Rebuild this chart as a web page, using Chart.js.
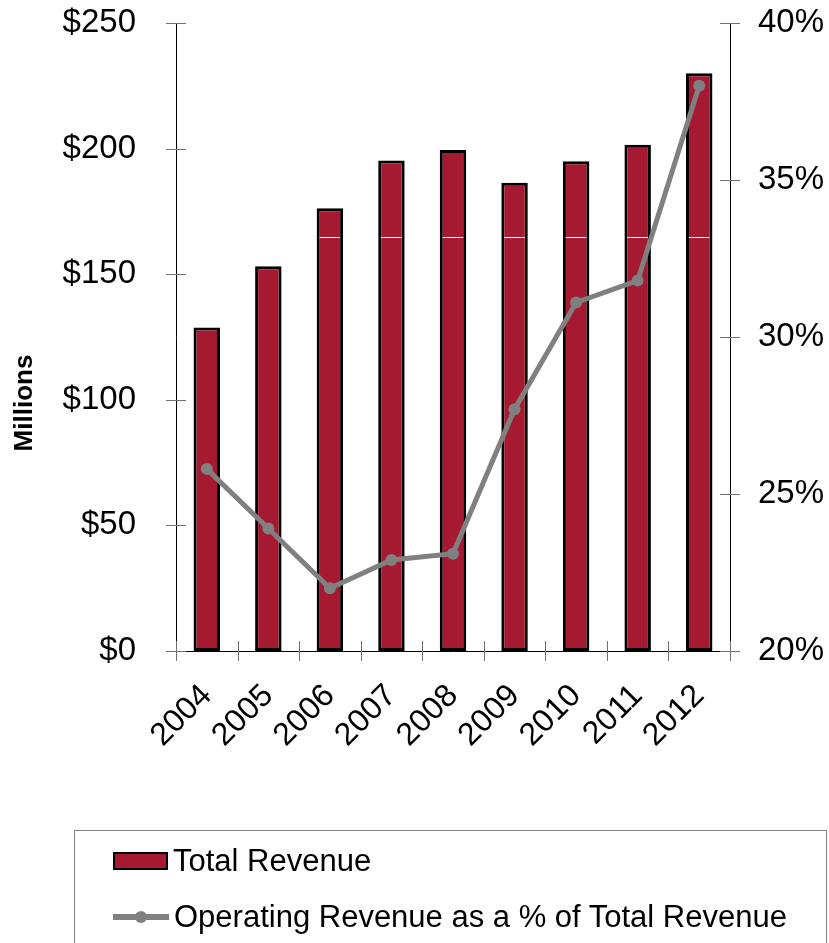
<!DOCTYPE html>
<html>
<head>
<meta charset="utf-8">
<script src="https://cdn.jsdelivr.net/npm/chart.js@4.4.1/dist/chart.umd.min.js"></script>
<style>
  html, body { margin: 0; padding: 0; background: #fff; }
  #wrap { position: relative; width: 829px; height: 943px; overflow: hidden; background: #fff; }
  #c { position: absolute; left: 0; top: 0; }
  #legend { position: absolute; left: 74px; top: 830px; width: 753px; height: 130px; border: 1px solid #808080; box-sizing: border-box; font-family: "Liberation Sans", Arial, sans-serif; font-size: 31px; color: #000; }
  .row { position: absolute; left: 38px; height: 36px; line-height: 36px; white-space: nowrap; display: flex; align-items: center; }
  .sw-bar { width: 55px; height: 18px; box-sizing: border-box; border: 2px solid #000; margin-right: 5px; }
  .sw-line { position: relative; width: 56px; height: 6px; margin-right: 5px; }
  .sw-line .ln { position: absolute; left: 0; top: 0; width: 56px; height: 6px; }
  .sw-line .dot { position: absolute; left: 22px; top: -3px; width: 12px; height: 12px; border-radius: 50%; }
</style>
</head>
<body>
<div id="wrap">
  <canvas id="c" width="829" height="943"></canvas>
  <div id="legend"></div>
</div>
<script>
// ---- data ----
const categories = ['2004', '2005', '2006', '2007', '2008', '2009', '2010', '2011', '2012'];
const totalRevenue = [128.8, 153.2, 176.3, 195.3, 199.4, 186.4, 195.0, 201.5, 230.0];
const operatingRevenuePct = [25.8, 23.9, 22.0, 22.9, 23.1, 27.7, 31.1, 31.8, 38.0];
const leftTickValues = [0, 50, 100, 150, 200, 250];
const rightTickValues = [20, 25, 30, 35, 40];
const seriesNames = ['Total Revenue', 'Operating Revenue as a % of Total Revenue'];
const axisTitle = 'Millions';
const barStripeValue = [165];

const FONT = '"Liberation Sans", Arial, sans-serif';
const BAR_COLOR = '#A51A31';
const LINE_COLOR = '#808080';

const crossTicks = {
  id: 'crossTicks',
  afterDraw(chart) {
    const ctx = chart.ctx;
    const {y, y1, x} = chart.scales;
    ctx.save();
    ctx.strokeStyle = '#707070';
    ctx.lineWidth = 1;
    ctx.beginPath();
    y.ticks.forEach((t, i) => {
      const py = Math.round(y.getPixelForTick(i)) + 0.5;
      ctx.moveTo(y.right - 10, py); ctx.lineTo(y.right + 10, py);
    });
    y1.ticks.forEach((t, i) => {
      const py = Math.round(y1.getPixelForTick(i)) + 0.5;
      ctx.moveTo(y1.left - 10, py); ctx.lineTo(y1.left + 10, py);
    });
    for (let i = 0; i <= categories.length; i++) {
      const px = Math.round(x.getPixelForValue(i - 0.5)) + 0.5;
      ctx.moveTo(px, x.top - 10); ctx.lineTo(px, x.top + 10);
    }
    ctx.stroke();
    // axis title
    ctx.fillStyle = '#000';
    ctx.font = 'bold 26px ' + FONT;
    ctx.textAlign = 'center';
    ctx.textBaseline = 'middle';
    ctx.translate(25, 403);
    ctx.rotate(-Math.PI / 2);
    ctx.fillText(axisTitle, 0, 0);
    ctx.restore();
  },
  afterDatasetDraw(chart, args) {
    if (args.meta.type !== 'bar') return;
    const ctx = chart.ctx;
    const ys = chart.scales.y;
    ctx.save();
    ctx.strokeStyle = '#ffffff';
    ctx.lineWidth = 1;
    barStripeValue.forEach(v => {
      const py = Math.round(ys.getPixelForValue(v)) + 0.5;
      args.meta.data.forEach(bar => {
        if (bar.y < py - 3) {
          ctx.beginPath();
          ctx.moveTo(bar.x - bar.width / 2 + 3, py);
          ctx.lineTo(bar.x + bar.width / 2 - 3, py);
          ctx.stroke();
        }
      });
    });
    ctx.restore();
  }
};

function fitY(width) {
  return function (s) {
    s.width = width;
    s.paddingTop = 0;
    s.paddingBottom = 0;
  };
}

const chart = new Chart(document.getElementById('c'), {
  data: {
    labels: categories,
    datasets: [
      {
        type: 'bar',
        label: seriesNames[0],
        data: totalRevenue,
        yAxisID: 'y',
        backgroundColor: BAR_COLOR,
        borderColor: '#000',
        borderWidth: 3,
        borderSkipped: false,
        barPercentage: 0.43,
        categoryPercentage: 1,
        order: 2
      },
      {
        type: 'line',
        label: seriesNames[1],
        data: operatingRevenuePct,
        yAxisID: 'y1',
        borderColor: LINE_COLOR,
        backgroundColor: LINE_COLOR,
        borderWidth: 5,
        pointRadius: 6,
        pointBackgroundColor: LINE_COLOR,
        pointBorderWidth: 0,
        tension: 0,
        order: 1
      }
    ]
  },
  options: {
    responsive: false,
    animation: false,
    devicePixelRatio: 1,
    layout: { padding: { top: 23, bottom: 142, left: 0, right: 0 } },
    plugins: { legend: { display: false }, tooltip: { enabled: false } },
    scales: {
      x: {
        type: 'category',
        offset: true,
        grid: { display: false, drawTicks: false },
        border: { display: true, color: '#000', width: 1 },
        ticks: {
          autoSkip: false, maxRotation: 45, minRotation: 45,
          padding: 26, labelOffset: 0,
          color: '#000', font: { family: FONT, size: 32 }
        },
        afterFit(s) { s.height = 150; }
      },
      y: {
        position: 'left',
        min: leftTickValues[0], max: leftTickValues[leftTickValues.length - 1],
        afterBuildTicks(s) { s.ticks = leftTickValues.map(v => ({ value: v })); },
        grid: { display: false, drawTicks: false },
        border: { display: true, color: '#000', width: 1 },
        ticks: {
          padding: 40, color: '#000', font: { family: FONT, size: 33 },
          callback: v => '$' + v
        },
        afterFit: fitY(176)
      },
      y1: {
        position: 'right',
        min: rightTickValues[0], max: rightTickValues[rightTickValues.length - 1],
        afterBuildTicks(s) { s.ticks = rightTickValues.map(v => ({ value: v })); },
        grid: { display: false, drawTicks: false },
        border: { display: true, color: '#000', width: 1 },
        ticks: {
          padding: 28, color: '#000', font: { family: FONT, size: 33 },
          callback: v => v + '%'
        },
        afterFit: fitY(99)
      }
    }
  },
  plugins: [crossTicks]
});

// ---- HTML legend built from the datasets ----
const legend = document.getElementById('legend');
chart.data.datasets.forEach((ds, i) => {
  const row = document.createElement('div');
  row.className = 'row';
  row.style.top = (i === 0 ? 12 : 68) + 'px';
  const sw = document.createElement('div');
  if (ds.type === 'bar') {
    sw.className = 'sw-bar';
    sw.style.background = ds.backgroundColor;
    sw.style.borderColor = ds.borderColor;
  } else {
    sw.className = 'sw-line';
    const ln = document.createElement('div'); ln.className = 'ln'; ln.style.background = ds.borderColor;
    const dot = document.createElement('div'); dot.className = 'dot'; dot.style.background = ds.pointBackgroundColor;
    sw.appendChild(ln); sw.appendChild(dot);
  }
  const tx = document.createElement('span');
  tx.textContent = ds.label;
  row.appendChild(sw); row.appendChild(tx);
  legend.appendChild(row);
});
</script>
</body>
</html>
